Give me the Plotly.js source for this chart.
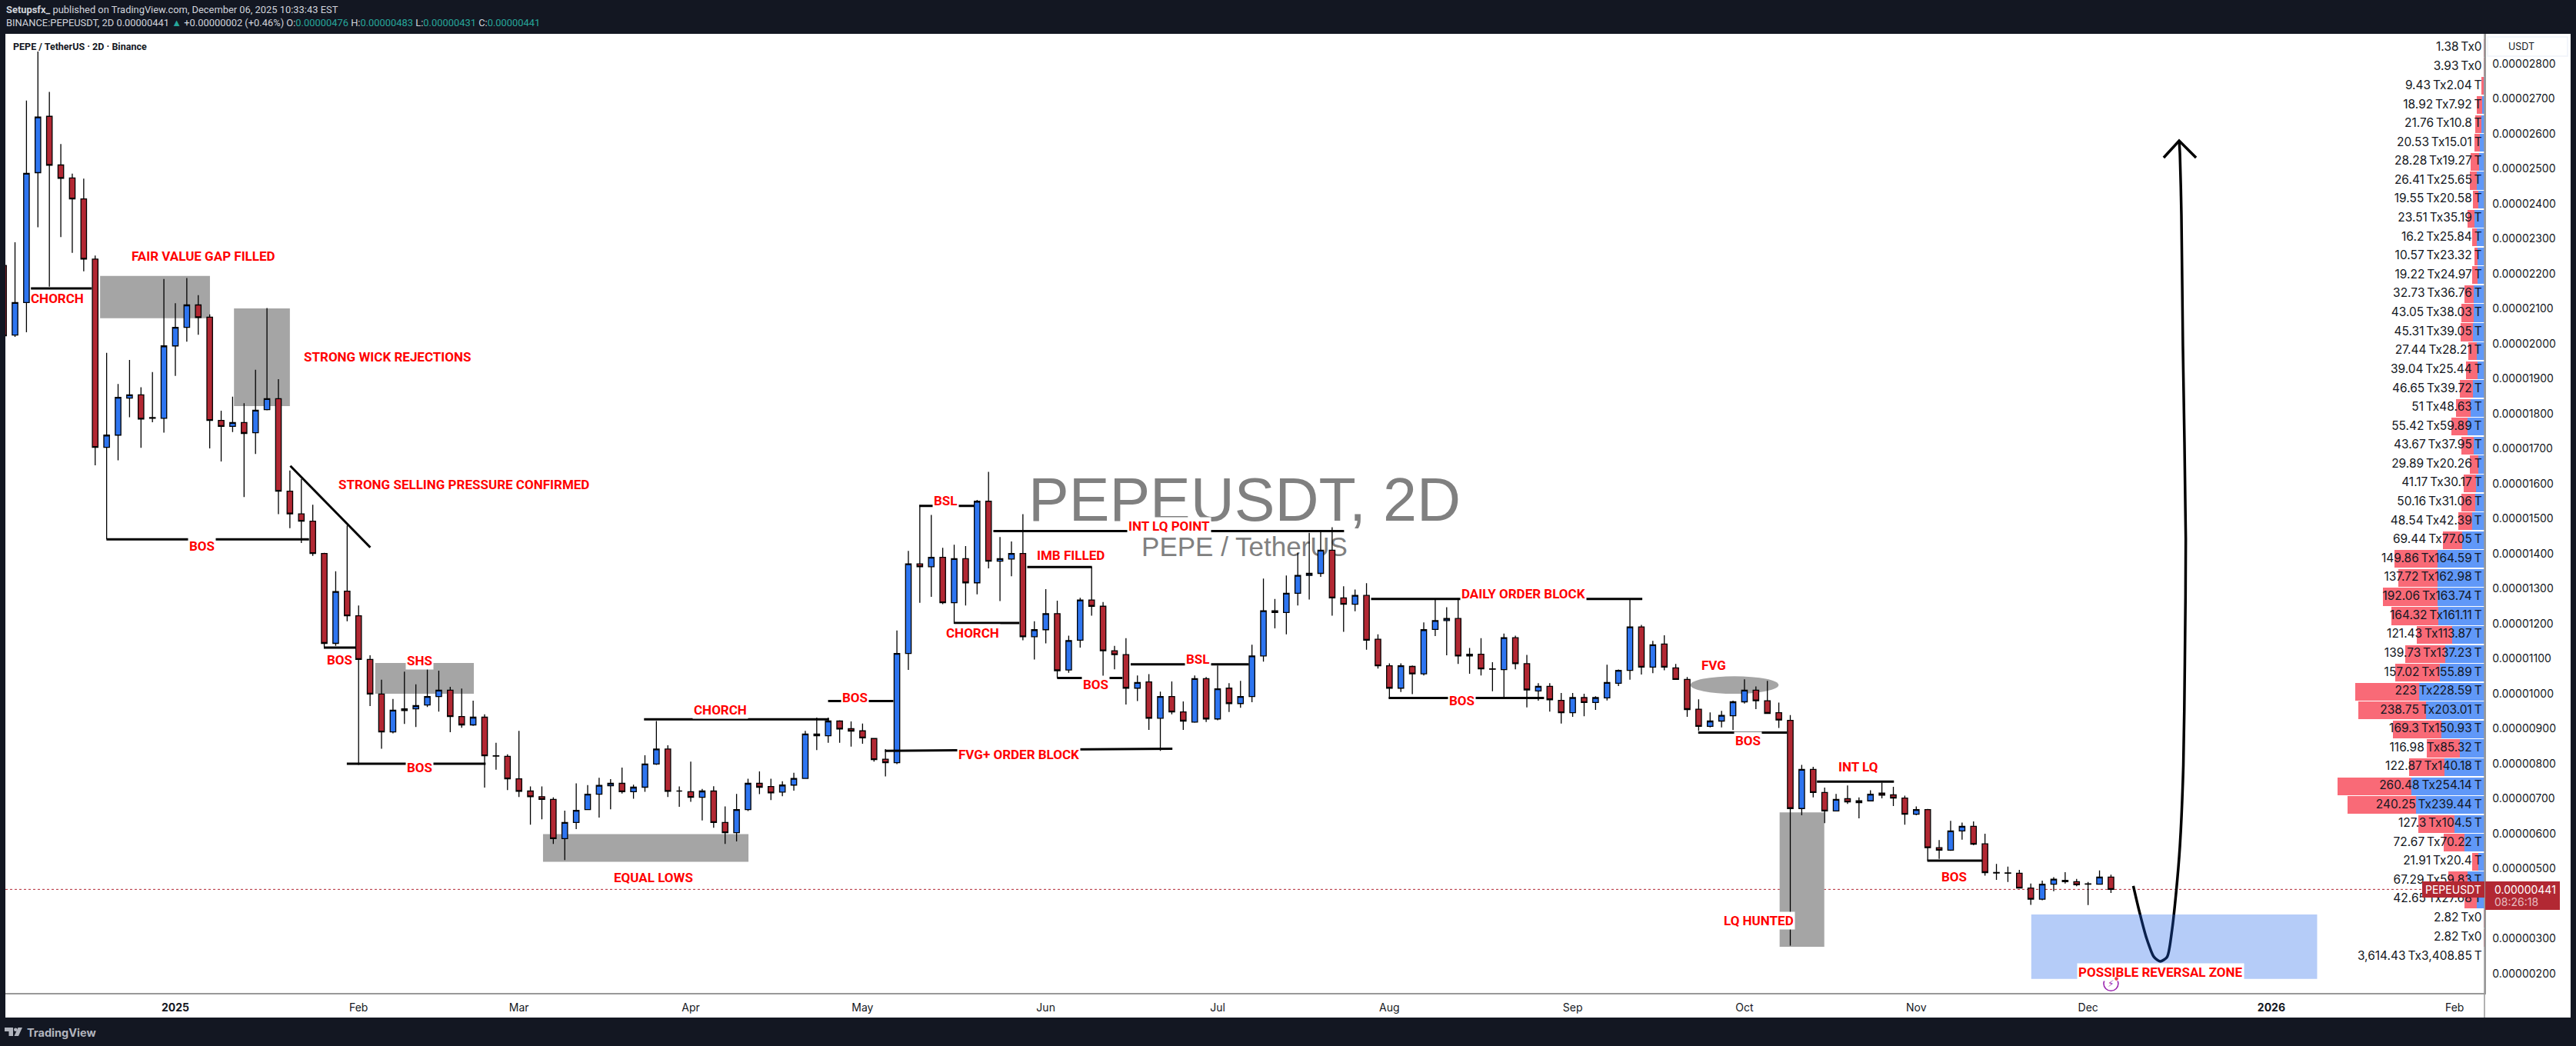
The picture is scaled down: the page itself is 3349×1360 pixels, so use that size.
<!DOCTYPE html>
<html><head><meta charset="utf-8">
<script src="https://cdn.plot.ly/plotly-3.0.1.min.js"></script>
<style>html,body{margin:0;padding:0;background:#131722}#c{width:3349px;height:1360px}</style>
</head><body><div id="c"></div>
<script>
// Prices are in millionths of a USDT. Bar number 0 is the 2D candle of 1 Jan 2025.
const barFirst = -15;
const opens = [22.24,20.25,21.18,24.89,26.5,25.11,24.74,24.14,22.42,17.04,17.39,18.45,18.54,17.87,17.87,19.94,20.47,21.11,20.76,17.81,17.64,17.75,17.46,18.12,18.43,15.79,15.14,14.93,14.01,11.44,12.93,12.23,10.98,9.99,8.91,9.52,9.57,9.68,9.92,10.1,9.35,9.11,9.33,8.23,8.21,7.57,7.22,7.06,6.98,5.86,6.32,6.69,7.13,7.37,7.44,7.2,7.33,7.99,8.42,7.22,7.2,7.04,7.22,6.32,6.03,6.69,7.44,7.35,7.19,7.39,7.58,8.85,8.8,9.22,9.0,8.94,8.72,8.13,8.03,11.15,13.71,13.63,13.9,12.6,13.86,13.17,15.5,13.79,13.85,14.01,11.63,11.83,12.29,10.68,11.53,12.68,12.5,11.23,11.12,10.16,10.34,9.3,9.92,9.48,9.19,10.43,9.28,10.16,9.72,9.92,11.08,12.37,12.32,12.87,13.38,13.44,14.1,12.74,12.56,12.81,11.56,10.8,10.16,10.78,10.57,11.84,12.09,12.15,11.08,11.13,10.71,10.69,11.6,10.86,10.08,10.21,9.81,9.46,9.89,9.75,9.88,10.3,10.67,11.91,10.76,11.42,10.74,10.41,9.56,9.07,9.22,9.37,9.77,10.1,9.8,9.46,9.24,6.72,7.84,7.18,6.65,7.0,6.89,6.94,7.16,7.11,7.02,6.56,6.69,5.6,5.53,6.08,6.21,5.71,4.89,4.88,4.87,4.45,4.13,4.56,4.67,4.63,4.56,4.56,4.76];
const highs = [22.3,22.9,26.95,28.35,27.2,25.71,24.86,24.72,22.52,19.74,18.85,19.54,18.76,19.19,21.85,21.16,21.88,21.39,20.84,18.09,18.49,18.3,19.26,21.02,18.99,16.38,16.14,15.4,14.03,13.5,14.81,12.52,11.1,10.4,9.85,10.63,10.27,10.76,10.66,10.2,10.15,9.8,9.41,8.6,8.27,8.94,7.35,7.35,7.04,6.66,7.44,7.39,7.6,7.56,7.89,7.4,8.24,9.22,8.53,7.35,8.06,7.28,7.36,6.78,7.14,7.57,7.78,7.57,7.5,7.74,8.94,9.32,9.32,9.24,9.21,9.15,8.72,8.42,11.81,14.08,15.39,15.11,14.17,14.26,14.22,15.54,16.34,14.48,14.35,15.13,12.07,12.99,12.66,11.66,12.74,13.62,12.62,11.37,11.59,10.52,10.56,10.06,10.35,9.78,10.52,10.48,10.81,10.3,10.37,11.4,13.29,12.71,13.38,14.02,14.6,14.62,14.76,13.07,12.98,13.16,11.7,10.87,10.87,10.81,12.04,12.69,12.47,12.73,11.31,11.59,10.9,11.72,11.66,11.11,10.3,10.3,10.02,10.02,10,9.93,10.83,10.69,12.68,11.97,11.51,11.67,10.85,10.48,9.84,9.47,9.51,9.8,10.41,10.21,10.37,9.75,9.39,7.97,7.91,7.32,7.14,7.38,7.04,7.24,7.46,7.34,7.09,6.78,6.71,5.82,6.37,6.32,6.35,6.0,5.14,5.06,4.97,4.58,4.66,4.76,4.9,4.71,4.62,4.95,4.83];
const lows = [20.2,20.2,20.33,23.33,21.63,23.05,22.6,22.07,16.53,14.42,16.67,17.9,17.03,17.76,17.46,19.08,20.06,20.26,17.01,16.64,17.48,15.62,16.85,18.1,15.13,14.73,14.31,13.94,11.34,11.37,12.07,7.97,9.65,8.43,8.87,9.14,9.05,9.62,9.49,8.9,9.03,9.08,7.32,7.83,7.25,7.05,6.26,6.41,5.71,5.25,6.13,6.68,6.46,6.7,7.15,7.0,7.2,7.97,7.05,6.77,6.91,6.38,6.17,5.71,5.78,6.65,7.13,6.96,7.07,7.23,7.58,8.39,8.6,8.6,8.49,8.57,8.06,7.64,7.99,10.68,12.6,12.77,12.56,12.0,12.52,12.84,13.58,12.65,13.36,11.53,10.98,11.44,10.45,10.6,11.32,12.23,10.47,10.7,9.69,9.79,8.97,8.37,9.41,8.97,9.17,9.19,9.24,9.48,9.6,9.76,10.92,11.87,11.7,12.52,12.69,13.34,12.23,11.77,12.36,11.26,10.72,9.86,10.05,9.99,10.52,11.65,11.1,10.85,10.57,10.52,10.07,9.9,10.7,9.61,9.8,9.49,9.15,9.34,9.36,9.54,9.81,10.22,10.4,10.55,10.59,10.67,10.41,9.34,8.94,9.04,9.04,8.96,9.72,9.56,9.44,9.02,2.8,6.53,7.04,6.3,6.65,6.85,6.44,6.94,7.01,6.79,6.26,6.53,5.23,5.28,5.51,5.83,5.67,4.8,4.68,4.62,4.45,3.97,4.1,4.36,4.58,4.5,3.96,4.56,4.31];
const closes = [20.23,21.18,24.87,26.48,25.1,24.73,24.14,22.42,17.04,17.39,18.47,18.54,17.85,17.89,19.94,20.47,21.11,20.75,17.81,17.64,17.75,17.44,18.1,18.43,15.79,15.14,14.93,14.01,11.44,12.92,12.23,10.98,9.99,8.91,9.53,9.57,9.66,9.92,10.1,9.35,9.11,9.33,8.23,8.22,7.57,7.21,7.06,6.98,5.86,6.32,6.67,7.13,7.38,7.44,7.2,7.33,7.99,8.42,7.21,7.22,7.04,7.22,6.32,6.03,6.69,7.44,7.33,7.17,7.39,7.58,8.85,8.8,9.22,8.99,8.93,8.74,8.12,8.03,11.15,13.71,13.63,13.9,12.6,13.86,13.17,15.5,13.79,13.86,14.01,11.63,11.83,12.29,10.66,11.52,12.68,12.5,11.23,11.12,10.16,10.32,9.3,9.92,9.48,9.22,10.43,9.28,10.14,9.72,9.92,11.08,12.37,12.32,12.87,13.38,13.44,14.1,12.74,12.56,12.81,11.53,10.8,10.16,10.8,10.57,11.83,12.09,12.15,11.08,11.13,10.71,10.7,11.6,10.86,10.11,10.21,9.83,9.46,9.89,9.75,9.89,10.32,10.67,11.91,10.76,11.4,10.76,10.41,9.55,9.07,9.22,9.38,9.77,10.1,9.8,9.44,9.25,6.72,7.84,7.18,6.65,6.98,6.91,6.94,7.13,7.1,7.02,6.56,6.69,5.6,5.53,6.08,6.21,5.7,4.89,4.88,4.87,4.45,4.13,4.56,4.7,4.63,4.54,4.57,4.76,4.41];

// Volume profile rows
const vpLevels = [28.45,27.91,27.37,26.82,26.28,25.74,25.20,24.66,24.12,23.58,23.04,22.50,21.96,21.42,20.88,20.33,19.79,19.25,18.71,18.17,17.63,17.09,16.55,16.01,15.47,14.93,14.39,13.85,13.31,12.77,12.22,11.68,11.14,10.60,10.06,9.52,8.98,8.44,7.90,7.36,6.82,6.28,5.74,5.20,4.66,4.12,3.57,3.03];
const vpSell = [1.38,3.93,9.43,18.92,21.76,20.53,28.28,26.41,19.55,23.51,16.2,10.57,19.22,32.73,43.05,45.31,27.44,39.04,46.65,51,55.42,43.67,29.89,41.17,50.16,48.54,69.44,149.86,137.72,192.06,164.32,121.43,139.73,157.02,223,238.75,169.3,116.98,122.87,260.48,240.25,127.3,72.67,21.91,67.29,42.65,2.82,2.82];
const vpBuy = [0,0,2.04,7.92,10.8,15.01,19.27,25.65,20.58,35.19,25.84,23.32,24.97,36.76,38.03,39.05,28.21,25.44,39.72,48.63,59.89,37.95,20.26,30.17,31.06,42.39,77.05,164.59,162.98,163.74,161.11,113.87,137.23,155.89,228.59,203.01,150.93,85.32,140.18,254.14,239.44,104.5,70.22,20.4,59.83,27.68,0,0];
const vpTotalLabel = '3,614.43\u2009Tx3,408.85\u2009T';
const vpTotalLevel = 2.49;

// Axis ticks
const priceTicks = [2,3,5,6,7,8,9,10,11,12,13,14,15,16,17,18,19,20,21,22,23,24,25,26,27,28];
const priceTickLabels = ['0.00000200','0.00000300','0.00000500','0.00000600','0.00000700','0.00000800','0.00000900','0.00001000','0.00001100','0.00001200','0.00001300','0.00001400','0.00001500','0.00001600','0.00001700','0.00001800','0.00001900','0.00002000','0.00002100','0.00002200','0.00002300','0.00002400','0.00002500','0.00002600','0.00002700','0.00002800'];
const timeTicks = [-15,0,16,30,45,60,76,91,106,122,137,152,167,183,199];
const timeTickLabels = ['Dec','<b>2025</b>','Feb','Mar','Apr','May','Jun','Jul','Aug','Sep','Oct','Nov','Dec','<b>2026</b>','Feb'];

// Drawings: [bar, price] anchored
const noteLabels = [
 ['FAIR VALUE GAP FILLED',2.46,22.51,0],['CHORCH',-10.34,21.29,0],['STRONG WICK REJECTIONS',18.57,19.62,0],
 ['STRONG SELLING PRESSURE CONFIRMED',25.2,15.97,0],['BOS',2.33,14.21,1],['BOS',14.37,10.96,1],['SHS',21.35,10.94,1],
 ['BOS',21.35,7.88,1],['CHORCH',47.56,9.53,1],['EQUAL LOWS',41.73,4.74,1],['BOS',59.34,9.88,1],['BSL',67.27,15.51,1],
 ['INT LQ POINT',86.75,14.8,1],['IMB FILLED',78.15,13.95,1],['CHORCH',69.62,11.74,1],['BOS',80.37,10.27,1],
 ['FVG+ ORDER BLOCK',73.61,8.26,1],['BSL',89.28,10.99,1],['DAILY ORDER BLOCK',117.68,12.85,1],['BOS',112.32,9.81,1],
 ['FVG',134.33,10.81,1],['BOS',137.33,8.65,1],['LQ HUNTED',138.27,3.52,1],['INT LQ',146.92,7.91,1],['BOS',155.32,4.78,1],
 ['POSSIBLE REVERSAL ZONE',173.35,2.04,1]
];
const levelLines = [ // bar0, price0, bar1, price1
 [-12.61,21.58,-7.3,21.58],[-6.02,14.41,11.67,14.41],[10.04,16.51,17.02,14.18],[12.96,11.32,15.74,11.32],[14.97,8.0,27.09,8.0],
 [40.92,9.27,57.07,9.27],[56.99,9.79,62.69,9.79],[61.96,8.37,87.05,8.43],[64.95,15.37,69.75,15.37],[71.42,14.65,102.04,14.65],
 [74.38,13.62,80.03,13.62],[68.0,12.02,73.69,12.02],[76.99,10.45,82.69,10.45],[83.41,10.84,93.73,10.84],[104.4,12.71,128.08,12.71],
 [105.94,9.88,119.5,9.88],[132.96,8.89,140.71,8.89],[143.33,7.49,150.05,7.49],[152.96,5.23,157.76,5.23]
];
const greyBoxes = [[-6.57,21.94,3.02,20.73],[5.12,21.01,10.0,18.22],[17.45,10.88,26.06,10.0],[32.1,5.99,50.04,5.2],[140.07,6.61,143.97,2.77]];
const fvgEllipse = [132.28,10.5,139.98,10.0];
const reversalZone = [162.04,3.69,187,1.85];
const projectionBars = [170.95,171.46,172.1,172.75,173.3,173.9,174.33,174.67,175.02,175.32,175.45,175.53,175.28,175.15,175.02,174.95];
const projectionPrices = [4.51,3.80,3.02,2.48,2.35,2.48,3.25,4.26,5.65,7.96,10.92,14.44,19.93,23.67,25.43,25.8];
const arrowBars = [173.6,174.95,176.43];
const arrowPrices = [25.32,25.8,25.32];
const lastPrice = 4.41;

// --- page geometry helpers (chrome only) ---
const W=3349,H=1360,L=7,R=3230,T=44,B=1291;
const px=x=>(x-L)/(R-L), py=y=>(B-y)/(B-T);
const barX = opens.map((_,i)=>barFirst+i);
const RED='#FF0000', DOWN='#B22833', UP='#2E75F0';

const traces=[
 {type:'bar',orientation:'h',y:vpLevels,x:vpBuy,xaxis:'x2',yaxis:'y',width:0.51,marker:{color:'#6098F8',line:{width:0}},hoverinfo:'skip',showlegend:false},
 {type:'bar',orientation:'h',y:vpLevels,x:vpSell,xaxis:'x2',yaxis:'y',width:0.51,marker:{color:'#F96A77',line:{width:0}},hoverinfo:'skip',showlegend:false},
 {type:'candlestick',x:barX,open:opens,high:highs,low:lows,close:closes,whiskerwidth:0,
  increasing:{line:{color:'#000',width:1.3},fillcolor:UP},decreasing:{line:{color:'#000',width:1.3},fillcolor:DOWN},hoverinfo:'skip',showlegend:false},
 {type:'scatter',mode:'lines',x:projectionBars,y:projectionPrices,line:{color:'#000',width:3.5,shape:'spline',smoothing:0.7},hoverinfo:'skip',showlegend:false},
 {type:'scatter',mode:'lines',x:arrowBars,y:arrowPrices,line:{color:'#000',width:3.5},hoverinfo:'skip',showlegend:false},
 {type:'scatter',mode:'text',xaxis:'x2',yaxis:'y',y:vpLevels.concat([vpTotalLevel]),x:vpLevels.map(()=>9).concat([9]),
  text:vpSell.map((s,i)=>s.toLocaleString('en-US',{maximumFractionDigits:2})+'\u2009Tx'+vpBuy[i].toLocaleString('en-US',{maximumFractionDigits:2})+(vpBuy[i]?'\u2009T':'')).concat([vpTotalLabel]),
  textposition:'middle left',textfont:{family:'Inter',size:15.5,color:'#131722'},hoverinfo:'skip',showlegend:false}
];

const shapes=[
 {type:'rect',xref:'paper',yref:'paper',x0:0,x1:px(3342),y0:py(1323),y1:1,fillcolor:'#fff',line:{width:0},layer:'below'},
 // watermark
 {type:'rect',xref:'paper',yref:'paper',x0:px(1218),x1:px(2018),y0:py(682),y1:py(602),fillcolor:'rgba(0,0,0,0)',line:{width:0},layer:'below',
  label:{text:'PEPEUSDT, 2D',font:{family:'Liberation Sans',size:79,color:'#808080'},textposition:'middle center'}},
 {type:'rect',xref:'paper',yref:'paper',x0:px(1318),x1:px(1918),y0:py(727),y1:py(687),fillcolor:'rgba(0,0,0,0)',line:{width:0},layer:'below',
  label:{text:'PEPE / TetherUS',font:{family:'Liberation Sans',size:35,color:'#808080'},textposition:'middle center'}},
 {type:'line',xref:'paper',yref:'y',x0:0,x1:1,y0:lastPrice,y1:lastPrice,line:{color:DOWN,width:1,dash:'dot'},layer:'below'},
 {type:'line',xref:'paper',yref:'paper',x0:1,x1:1,y0:py(1323),y1:1,line:{color:'#999',width:1.5},layer:'above'},
 {type:'rect',xref:'paper',yref:'paper',x0:px(3234),x1:px(3338),y0:py(73),y1:py(48),line:{color:'#F0F3FA',width:1.5},fillcolor:'#fff',layer:'above'},
 {type:'rect',xref:'paper',yref:'paper',x0:px(3149),x1:px(3230),y0:py(1167),y1:py(1146),line:{width:0},fillcolor:DOWN,layer:'above'},
 {type:'rect',xref:'paper',yref:'paper',x0:px(3231),x1:px(3328),y0:py(1183),y1:py(1146),line:{width:0},fillcolor:DOWN,layer:'above'},
 // TradingView mark
 {type:'path',xref:'paper',yref:'paper',path:`M${px(6)},${py(1336)}L${px(17)},${py(1336)}L${px(17)},${py(1347)}L${px(11.5)},${py(1347)}L${px(11.5)},${py(1341)}L${px(6)},${py(1341)}Z`,fillcolor:'#B2B5BE',line:{width:0},layer:'above'},
 {type:'path',xref:'paper',yref:'paper',path:`M${px(29)},${py(1336)}L${px(24)},${py(1347)}L${px(18.5)},${py(1347)}L${px(23.5)},${py(1336)}Z`,fillcolor:'#B2B5BE',line:{width:0},layer:'above'},
 {type:'circle',xref:'paper',yref:'paper',x0:px(18),x1:px(22.6),y0:py(1341),y1:py(1336.4),fillcolor:'#B2B5BE',line:{width:0},layer:'above'}
];
greyBoxes.forEach(b=>shapes.push({type:'rect',xref:'x',yref:'y',x0:b[0],y0:b[1],x1:b[2],y1:b[3],fillcolor:'#A5A5A5',line:{width:0},layer:'below'}));
shapes.push({type:'circle',xref:'x',yref:'y',x0:fvgEllipse[0],y0:fvgEllipse[1],x1:fvgEllipse[2],y1:fvgEllipse[3],fillcolor:'#A5A5A5',line:{width:0},layer:'below'});
shapes.push({type:'rect',xref:'x',yref:'y',x0:reversalZone[0],y0:reversalZone[1],x1:reversalZone[2],y1:reversalZone[3],fillcolor:'rgba(30,100,235,0.33)',line:{width:0},layer:'above'});
levelLines.forEach(l=>shapes.push({type:'line',xref:'x',yref:'y',x0:l[0],y0:l[1],x1:l[2],y1:l[3],line:{color:'#000',width:3},layer:'above'}));

const teal=s=>`<span style="color:#26A69A">${s}</span>`;
const annotations=noteLabels.map(n=>({xref:'x',yref:'y',x:n[1],y:n[2],text:'<b>'+n[0]+'</b>',showarrow:false,font:{family:'Roboto',size:17,color:RED},bgcolor:n[3]?'#fff':'rgba(0,0,0,0)',borderpad:1}));
const pa=(x,y,text,size,color,anchor,family)=>({xref:'paper',yref:'paper',x:px(x),y:py(y),text,showarrow:false,xanchor:anchor||'left',yanchor:'middle',font:{family:family||'Roboto',size,color}});
annotations.push(
 pa(6,12.5,'<b>Setupsfx_</b> published on TradingView.com, December 06, 2025 10:33:43 EST',12.9,'#D1D4DC'),
 pa(6,29.5,'BINANCE:PEPEUSDT, 2D 0.00000441 '+teal('▲')+' +0.00000002 (+0.46%) O:'+teal('0.00000476')+' H:'+teal('0.00000483')+' L:'+teal('0.00000431')+' C:'+teal('0.00000441'),12.9,'#D1D4DC'),
 pa(15,60.7,'<b>PEPE / TetherUS · 2D · Binance</b>',12.5,'#131722'),
 pa(3259,60,'USDT',12.5,'#131722','left','Inter'),
 pa(3189.5,1156.5,'PEPEUSDT',14,'#fff','center','Inter'),
 pa(3240.7,1156,'0.00000441',14,'#fff','left','Inter'),
 pa(3240.7,1172,'08:26:18',14,'rgba(255,255,255,0.7)','left','Inter'),
 pa(33,1342,'<b>TradingView</b>',14.5,'#B2B5BE','left','Inter'),
 {xref:'x',yref:'y',x:169,y:1.72,text:'⚡',showarrow:false,font:{family:'DejaVu Sans',size:12,color:'#9C27B0'}},
 {xref:'x',yref:'y',x:169.45,y:1.88,text:'●',showarrow:false,font:{family:'DejaVu Sans',size:6,color:'#F23645'}}
);
traces.push({type:'scatter',mode:'markers',x:[169],y:[1.72],marker:{symbol:'circle-open',size:19,color:'#9C27B0',line:{width:1.6,color:'#9C27B0'}},hoverinfo:'skip',showlegend:false});

const layout={
 width:W,height:H,autosize:false,showlegend:false,barmode:'stack',bargap:0,dragmode:false,
 paper_bgcolor:'#131722',plot_bgcolor:'#fff',
 margin:{l:L,r:W-R,t:T,b:H-B,pad:0},
 font:{family:'Inter',color:'#131722'},
 xaxis:{type:'linear',range:[-14.84,201.61],rangeslider:{visible:false},tickmode:'array',tickvals:timeTicks,ticktext:timeTickLabels,
  ticks:'',showgrid:false,zeroline:false,showline:true,linecolor:'#999',linewidth:1.5,tickfont:{family:'Inter',size:14,color:'#131722'},ticklabelstandoff:6,fixedrange:true},
 xaxis2:{type:'linear',overlaying:'x',anchor:'y',side:'top',range:[8664,0],visible:false,fixedrange:true},
 yaxis:{type:'linear',side:'right',range:[1.451,28.857],tickmode:'array',tickvals:priceTicks,ticktext:priceTickLabels,
  ticks:'',showgrid:false,zeroline:false,showline:true,linecolor:'#999',linewidth:1.5,tickfont:{family:'Inter',size:14,color:'#131722'},ticklabelstandoff:6,fixedrange:true},
 shapes,annotations
};
Plotly.newPlot('c',traces,layout,{staticPlot:true,displayModeBar:false});
</script></body></html>
